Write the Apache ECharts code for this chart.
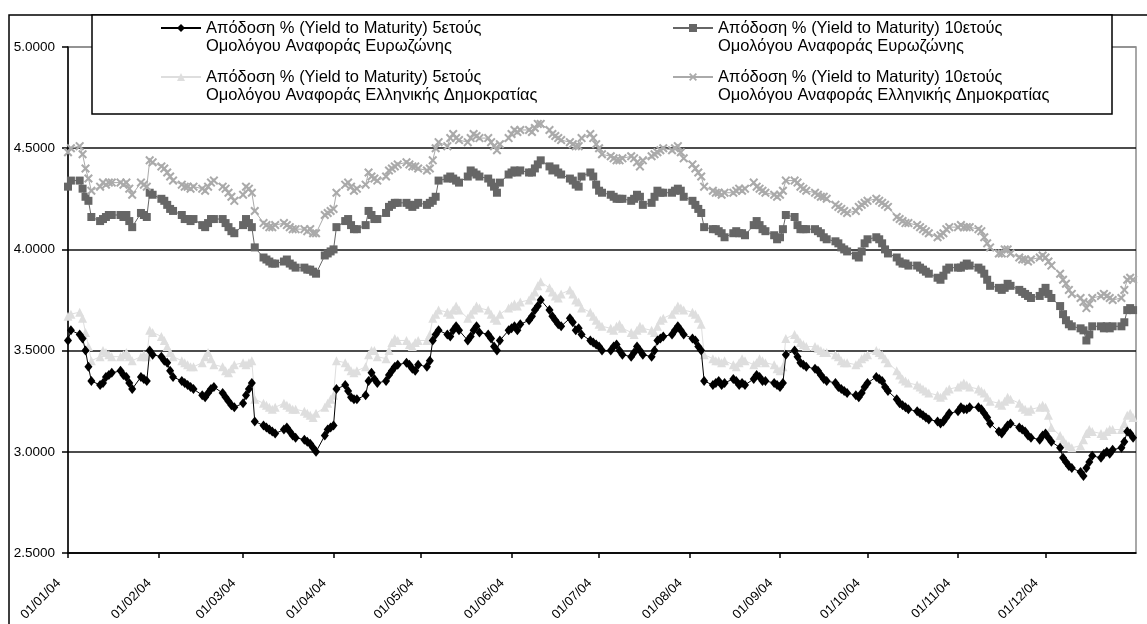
<!DOCTYPE html>
<html>
<head>
<meta charset="utf-8">
<script src="https://cdn.jsdelivr.net/npm/echarts@6/dist/echarts.min.js"></script>
<style>
  html, body { margin: 0; padding: 0; background: #fff; }
  #chart { width: 1147px; height: 624px; }
</style>
</head>
<body>
<div id="chart"></div>
<script>
// Series names (two-line legend labels)
const name5EZ = 'Απόδοση % (Yield to Maturity) 5ετούς\nΟμολόγου Αναφοράς Ευρωζώνης';
const name10EZ = 'Απόδοση % (Yield to Maturity) 10ετούς\nΟμολόγου Αναφοράς Ευρωζώνης';
const name5GR = 'Απόδοση % (Yield to Maturity) 5ετούς\nΟμολόγου Αναφοράς Ελληνικής Δημοκρατίας';
const name10GR = 'Απόδοση % (Yield to Maturity) 10ετούς\nΟμολόγου Αναφοράς Ελληνικής Δημοκρατίας';

// Month-start tick labels on the date axis
const tickLabels = ['01/01/04', '01/02/04', '01/03/04', '01/04/04', '01/05/04', '01/06/04',
  '01/07/04', '01/08/04', '01/09/04', '01/10/04', '01/11/04', '01/12/04'];

// Daily yields, one value per weekday of 2004 (Thu 01/01 .. Fri 31/12)
const yield5EZ = [
  3.55, 3.60,
  3.58, 3.56, 3.50, 3.42, 3.35,
  3.33, 3.34, 3.37, 3.38, 3.39,
  3.40, 3.38, 3.37, 3.34, 3.31,
  3.37, 3.36, 3.35, 3.50, 3.48,
  3.47, 3.45, 3.44, 3.40, 3.37,
  3.35, 3.34, 3.33, 3.32, 3.31,
  3.28, 3.27, 3.29, 3.31, 3.32,
  3.29, 3.27, 3.25, 3.23, 3.22,
  3.24, 3.28, 3.31, 3.34, 3.15,
  3.13, 3.12, 3.11, 3.10, 3.09,
  3.11, 3.12, 3.10, 3.08, 3.07,
  3.06, 3.05, 3.04, 3.02, 3.00,
  3.08, 3.11, 3.12, 3.13, 3.31,
  3.33, 3.30, 3.27, 3.26, 3.26,
  3.28, 3.35, 3.39, 3.36, 3.34,
  3.35, 3.38, 3.40, 3.42, 3.43,
  3.44, 3.43, 3.41, 3.40, 3.43,
  3.42, 3.45, 3.55, 3.58, 3.60,
  3.58, 3.57, 3.60, 3.62, 3.60,
  3.55, 3.57, 3.60, 3.62, 3.59,
  3.58, 3.56, 3.52, 3.50, 3.55,
  3.60, 3.61, 3.62, 3.60, 3.63,
  3.65, 3.67, 3.70, 3.72, 3.75,
  3.70, 3.67, 3.65, 3.63, 3.62,
  3.66, 3.64, 3.60, 3.61, 3.58,
  3.55, 3.54, 3.53, 3.52, 3.50,
  3.50, 3.52, 3.53, 3.50, 3.48,
  3.47, 3.49, 3.52, 3.50, 3.48,
  3.47, 3.50, 3.55, 3.56, 3.57,
  3.58, 3.60, 3.62, 3.60, 3.58,
  3.56, 3.55, 3.52, 3.50, 3.35,
  3.33, 3.34, 3.35, 3.33, 3.34,
  3.36, 3.35, 3.33, 3.34, 3.33,
  3.36, 3.38, 3.37, 3.35, 3.35,
  3.34, 3.33, 3.32, 3.34, 3.48,
  3.50, 3.47, 3.44, 3.43, 3.42,
  3.41, 3.40, 3.38, 3.36, 3.35,
  3.34, 3.32, 3.31, 3.30, 3.29,
  3.28, 3.27, 3.29, 3.32, 3.34,
  3.37, 3.36, 3.35, 3.32, 3.30,
  3.26, 3.24, 3.23, 3.22, 3.21,
  3.20, 3.19, 3.18, 3.17, 3.16,
  3.15, 3.14, 3.15, 3.17, 3.19,
  3.20, 3.22, 3.21, 3.21, 3.22,
  3.22, 3.21, 3.19, 3.17, 3.14,
  3.10, 3.09, 3.11, 3.13, 3.14,
  3.12, 3.11, 3.10, 3.08, 3.07,
  3.06, 3.08, 3.09, 3.07, 3.05,
  3.02, 2.97, 2.95, 2.93, 2.92,
  2.90, 2.88, 2.92, 2.95, 2.98,
  2.97, 2.99, 3.00, 2.99, 3.01,
  3.02, 3.05, 3.10, 3.09, 3.07
];

const yield10EZ = [
  4.31, 4.34,
  4.34, 4.30, 4.26, 4.24, 4.16,
  4.14, 4.15, 4.16, 4.17, 4.17,
  4.17, 4.16, 4.17, 4.14, 4.11,
  4.18, 4.17, 4.16, 4.28, 4.27,
  4.25, 4.24, 4.22, 4.20, 4.19,
  4.17, 4.15, 4.15, 4.14, 4.15,
  4.12, 4.11, 4.13, 4.15, 4.15,
  4.15, 4.13, 4.11, 4.09, 4.08,
  4.12, 4.15, 4.13, 4.11, 4.01,
  3.96, 3.95, 3.94, 3.93, 3.93,
  3.94, 3.95, 3.93, 3.92, 3.91,
  3.91, 3.90, 3.90, 3.89, 3.88,
  3.97, 3.98, 3.99, 4.00, 4.11,
  4.14, 4.15, 4.12, 4.10, 4.10,
  4.12, 4.19, 4.17, 4.15, 4.15,
  4.18, 4.21, 4.22, 4.23, 4.23,
  4.23, 4.22, 4.21, 4.22, 4.23,
  4.22, 4.23, 4.24, 4.26, 4.34,
  4.35, 4.36, 4.35, 4.34, 4.33,
  4.36, 4.39, 4.38, 4.37, 4.36,
  4.35, 4.33, 4.31, 4.28, 4.33,
  4.37, 4.38, 4.39, 4.38, 4.39,
  4.38, 4.38, 4.40, 4.42, 4.44,
  4.41, 4.39, 4.40, 4.38, 4.37,
  4.35, 4.34, 4.32, 4.31, 4.36,
  4.38, 4.36, 4.32, 4.29, 4.28,
  4.27, 4.26, 4.25, 4.25, 4.25,
  4.24, 4.25, 4.27, 4.26, 4.22,
  4.23, 4.26, 4.29, 4.28, 4.28,
  4.28, 4.29, 4.30, 4.29, 4.26,
  4.24, 4.22, 4.20, 4.18, 4.11,
  4.10, 4.10, 4.09, 4.08, 4.06,
  4.08, 4.09, 4.08, 4.08, 4.07,
  4.12, 4.14, 4.12, 4.10, 4.09,
  4.07, 4.05, 4.06, 4.10, 4.17,
  4.16, 4.12, 4.10, 4.10, 4.10,
  4.10, 4.09, 4.08, 4.06, 4.05,
  4.04, 4.03, 4.01, 4.00, 3.99,
  3.97, 3.96, 3.99, 4.03, 4.05,
  4.06, 4.05, 4.03, 4.00, 3.98,
  3.96, 3.94, 3.93, 3.93, 3.92,
  3.92, 3.91, 3.90, 3.89, 3.88,
  3.86, 3.85, 3.87, 3.90, 3.91,
  3.91, 3.91, 3.92, 3.93, 3.92,
  3.91, 3.90, 3.88, 3.85, 3.82,
  3.81, 3.80, 3.81, 3.83, 3.82,
  3.80, 3.79, 3.78, 3.77, 3.76,
  3.77, 3.79, 3.81, 3.78, 3.76,
  3.72, 3.68, 3.65, 3.63, 3.62,
  3.61, 3.60, 3.55, 3.58, 3.62,
  3.62, 3.61, 3.62, 3.61, 3.62,
  3.62, 3.64, 3.70, 3.71, 3.70
];

const yield5GR = [
  3.67, 3.68,
  3.69, 3.66, 3.59, 3.52, 3.45,
  3.47, 3.50, 3.49, 3.48, 3.47,
  3.47, 3.48, 3.49, 3.47, 3.45,
  3.47, 3.48, 3.47, 3.60, 3.59,
  3.57, 3.55, 3.52, 3.49, 3.47,
  3.45, 3.44, 3.43, 3.42, 3.42,
  3.44, 3.47, 3.49, 3.46, 3.43,
  3.42, 3.40, 3.39, 3.41, 3.43,
  3.44, 3.43, 3.44, 3.45, 3.26,
  3.24, 3.23, 3.22, 3.21, 3.22,
  3.24, 3.23, 3.22, 3.21, 3.21,
  3.20, 3.19, 3.18, 3.17, 3.19,
  3.22, 3.24, 3.26, 3.28, 3.45,
  3.44, 3.42, 3.40, 3.39, 3.40,
  3.42, 3.48, 3.50, 3.50, 3.47,
  3.46, 3.50, 3.54, 3.56, 3.55,
  3.55, 3.53, 3.52, 3.54, 3.55,
  3.55, 3.58, 3.66, 3.68, 3.70,
  3.69, 3.68, 3.70, 3.72, 3.70,
  3.66, 3.68, 3.70, 3.72, 3.71,
  3.70, 3.68, 3.66, 3.65, 3.68,
  3.71, 3.72, 3.73, 3.72, 3.74,
  3.75, 3.77, 3.79, 3.82, 3.84,
  3.81, 3.79, 3.77, 3.76, 3.78,
  3.80, 3.78, 3.75, 3.74, 3.71,
  3.69, 3.67, 3.65, 3.63, 3.62,
  3.61, 3.60, 3.62, 3.63, 3.61,
  3.59, 3.58, 3.60, 3.62, 3.61,
  3.60, 3.59, 3.62, 3.65, 3.66,
  3.68, 3.70, 3.72, 3.71, 3.70,
  3.69, 3.68, 3.66, 3.63, 3.48,
  3.46, 3.45, 3.45, 3.44, 3.45,
  3.43, 3.42, 3.44, 3.46, 3.45,
  3.43, 3.44, 3.46, 3.45, 3.44,
  3.43, 3.41, 3.40, 3.42, 3.56,
  3.58, 3.56, 3.54, 3.53, 3.52,
  3.52, 3.51, 3.50, 3.49, 3.49,
  3.48, 3.47, 3.45, 3.44, 3.44,
  3.43, 3.44, 3.46, 3.47, 3.48,
  3.50, 3.49, 3.48, 3.46, 3.44,
  3.40, 3.38, 3.36, 3.35, 3.34,
  3.33, 3.32, 3.31, 3.30, 3.29,
  3.28, 3.27, 3.28, 3.30, 3.31,
  3.32, 3.33, 3.34, 3.33, 3.32,
  3.31, 3.30, 3.29, 3.27, 3.25,
  3.24, 3.23, 3.25, 3.27, 3.26,
  3.24, 3.22, 3.21, 3.20, 3.21,
  3.22, 3.23, 3.22, 3.18, 3.12,
  3.08, 3.06, 3.04, 3.03, 3.02,
  3.03, 3.06, 3.09, 3.11, 3.10,
  3.09, 3.08, 3.10, 3.11, 3.11,
  3.11, 3.14, 3.18, 3.19, 3.17
];

const yield10GR = [
  4.48, 4.50,
  4.51, 4.47, 4.40, 4.35, 4.29,
  4.31, 4.33, 4.32, 4.33, 4.33,
  4.33, 4.32, 4.33, 4.30, 4.27,
  4.33, 4.32, 4.31, 4.44, 4.43,
  4.41, 4.40, 4.38, 4.36, 4.34,
  4.32, 4.31, 4.31, 4.30, 4.31,
  4.30, 4.29, 4.31, 4.33, 4.34,
  4.31, 4.30, 4.28, 4.26, 4.24,
  4.27, 4.31, 4.30, 4.28, 4.19,
  4.13, 4.12, 4.11, 4.11, 4.12,
  4.13, 4.12, 4.11, 4.10, 4.10,
  4.10, 4.09, 4.10, 4.08, 4.08,
  4.17, 4.18, 4.19, 4.20, 4.28,
  4.32, 4.33, 4.31, 4.29, 4.30,
  4.32, 4.38, 4.36, 4.35, 4.34,
  4.36, 4.39, 4.40, 4.41, 4.42,
  4.43, 4.42, 4.41, 4.41, 4.40,
  4.39, 4.40, 4.44, 4.50, 4.53,
  4.51, 4.55, 4.57, 4.55, 4.54,
  4.53, 4.55, 4.57, 4.56, 4.55,
  4.55, 4.53, 4.51, 4.49, 4.52,
  4.55, 4.57, 4.59, 4.58, 4.59,
  4.59, 4.58, 4.60, 4.62, 4.62,
  4.59, 4.57, 4.56, 4.55, 4.54,
  4.53, 4.52, 4.51, 4.51, 4.55,
  4.57, 4.55, 4.52, 4.50, 4.47,
  4.46, 4.45, 4.44, 4.44, 4.45,
  4.46, 4.45, 4.43, 4.41, 4.44,
  4.46, 4.47, 4.48, 4.49, 4.50,
  4.49, 4.50, 4.51, 4.48, 4.45,
  4.42, 4.40, 4.38, 4.36, 4.31,
  4.29, 4.28, 4.28, 4.27, 4.28,
  4.28, 4.29, 4.30, 4.29, 4.30,
  4.33, 4.31, 4.30, 4.29, 4.28,
  4.27, 4.26, 4.27, 4.29, 4.34,
  4.34, 4.33, 4.31, 4.30, 4.29,
  4.28, 4.27, 4.26, 4.26, 4.25,
  4.22, 4.21, 4.20, 4.19, 4.18,
  4.19, 4.21, 4.22, 4.23, 4.24,
  4.25, 4.24, 4.23, 4.22, 4.21,
  4.16, 4.15, 4.14, 4.13, 4.13,
  4.12, 4.11, 4.10, 4.09, 4.08,
  4.06, 4.07, 4.08, 4.10, 4.11,
  4.11, 4.12, 4.11, 4.11, 4.11,
  4.10, 4.09, 4.06, 4.03, 4.01,
  3.98, 3.98, 4.00, 4.00, 3.98,
  3.96, 3.95, 3.95, 3.94, 3.95,
  3.96, 3.97, 3.96, 3.94, 3.92,
  3.88, 3.85, 3.83, 3.80, 3.78,
  3.76, 3.74, 3.71, 3.73, 3.76,
  3.77, 3.78, 3.77, 3.76, 3.75,
  3.76, 3.80, 3.85, 3.86, 3.85
];

// Calendar helpers: x is measured in days since 01/01/04
const DAY = 86400000;
const yearStart = Date.UTC(2004, 0, 1);
const dayOf = (y, m, d) => Math.round((Date.UTC(y, m, d) - yearStart) / DAY);

// Weekdays of 2004 (x positions of the daily observations)
const tradingDays = [];
for (let t = yearStart; new Date(t).getUTCFullYear() === 2004; t += DAY) {
  const wd = new Date(t).getUTCDay();
  if (wd !== 0 && wd !== 6) tradingDays.push(Math.round((t - yearStart) / DAY));
}
const monthStarts = tickLabels.map((_, m) => dayOf(2004, m, 1));
const axisEnd = dayOf(2005, 0, 1);

const pairs = (vals) => vals.map((v, i) => [tradingDays[i], v]);

const FONT = "'Liberation Sans', Arial, sans-serif";
const crossPath = 'path://M0,1.6L1.6,0L5,3.4L8.4,0L10,1.6L6.6,5L10,8.4L8.4,10L5,6.6L1.6,10L0,8.4L3.4,5Z';

// One legend block per series; a blank first line keeps the marker level with the first text line
const LEG_LH = 18;
function legendAt(name, left, firstLineY) {
  return {
    data: [name], left: left, top: firstLineY - 1.5 * LEG_LH, orient: 'vertical', padding: 0,
    itemWidth: 40, itemHeight: 10, selectedMode: false, z: 200,
    formatter: (n) => ' \n' + n,
    textStyle: { fontFamily: FONT, fontSize: 16.5, color: '#000', lineHeight: LEG_LH }
  };
}

const chart = echarts.init(document.getElementById('chart'), null, { renderer: 'canvas' });
chart.setOption({
  animation: false,
  backgroundColor: '#fff',
  textStyle: { fontFamily: FONT },
  grid: { left: 68, right: 11, top: 47, bottom: 71, show: true, borderColor: '#8c8c8c', borderWidth: 1.5, containLabel: false },
  graphic: {
    elements: [
      { type: 'rect', z: -10, shape: { x: 9, y: 15, width: 1160, height: 640 },
        style: { fill: 'none', stroke: '#000', lineWidth: 1.5 } },
      { type: 'rect', z: 100, shape: { x: 92, y: 15, width: 1020, height: 99 },
        style: { fill: '#fff', stroke: '#000', lineWidth: 1.5 } }
    ]
  },
  legend: [
    legendAt(name5EZ, 160, 28),
    legendAt(name5GR, 160, 77),
    legendAt(name10EZ, 672, 28),
    legendAt(name10GR, 672, 77)
  ],
  xAxis: {
    type: 'value', min: 0, max: axisEnd,
    axisLine: { lineStyle: { color: '#000', width: 1.5 } },
    axisTick: { show: true, customValues: monthStarts, length: 5, lineStyle: { color: '#000', width: 1.5 } },
    axisLabel: {
      customValues: monthStarts, rotate: 45, margin: 19, padding: [0, 13, 0, 0],
      fontSize: 13, color: '#000', fontFamily: FONT,
      formatter: (v) => tickLabels[monthStarts.indexOf(v)] || ''
    },
    splitLine: { show: false }
  },
  yAxis: {
    type: 'value', min: 2.5, max: 5, interval: 0.5,
    axisLine: { show: true, lineStyle: { color: '#000', width: 1.5 } },
    axisTick: { show: true, length: 6, lineStyle: { color: '#000', width: 1.5 } },
    axisLabel: { fontSize: 13.5, color: '#000', margin: 13, padding: [0, 0, 5, 0], fontFamily: FONT,
      formatter: (v) => v.toFixed(4) },
    splitLine: { show: true, lineStyle: { color: ['#111', '#111', '#111', '#111', '#111', '#8c8c8c'], width: 1.5 } }
  },
  series: [
    { name: name5EZ, type: 'line', data: pairs(yield5EZ), z: 4,
      symbol: 'diamond', symbolSize: [8, 10], showAllSymbol: true,
      lineStyle: { color: '#000', width: 1 }, itemStyle: { color: '#000' } },
    { name: name10EZ, type: 'line', data: pairs(yield10EZ), z: 3,
      symbol: 'rect', symbolSize: 8, showAllSymbol: true,
      lineStyle: { color: '#666', width: 1 }, itemStyle: { color: '#666' } },
    { name: name5GR, type: 'line', data: pairs(yield5GR), z: 2,
      symbol: 'triangle', symbolSize: 9, showAllSymbol: true,
      lineStyle: { color: '#dedede', width: 1 }, itemStyle: { color: '#dedede' } },
    { name: name10GR, type: 'line', data: pairs(yield10GR), z: 3,
      symbol: crossPath, symbolSize: 9, showAllSymbol: true,
      lineStyle: { color: '#aaa', width: 1 }, itemStyle: { color: '#aaa' } }
  ]
});
</script>
</body>
</html>
